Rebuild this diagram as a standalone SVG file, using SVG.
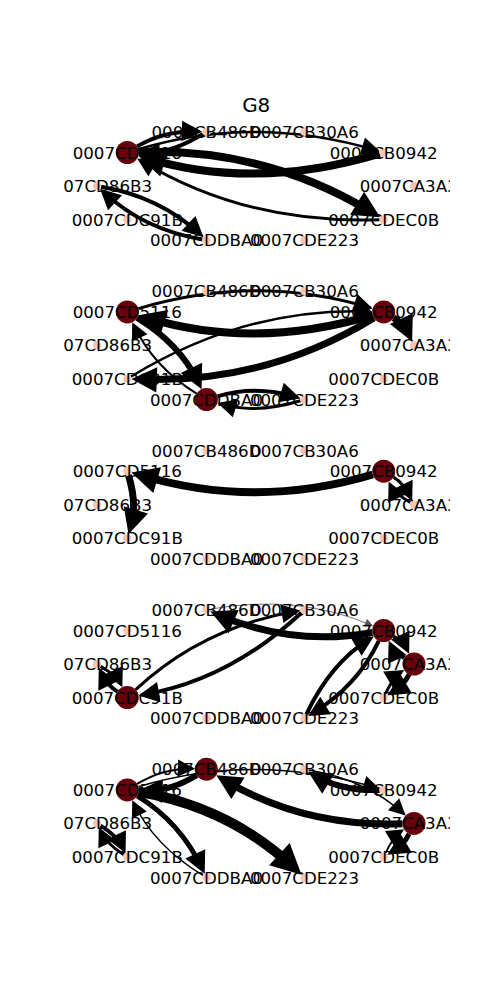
<svg xmlns="http://www.w3.org/2000/svg" width="500" height="1000" viewBox="0 0 500 1000">
<defs>
<style>
text{font-family:"DejaVu Sans","Liberation Sans",sans-serif;fill:#000}
.lbl{font-size:16.67px;text-anchor:middle}
.st{text-anchor:start}
.edges path{fill:none;stroke:#000}
.edges path.gr{stroke:#555}
.dk{fill:#67000d}
.lt{fill:#fcc5ad}
marker path{fill:#000;stroke:#000;stroke-linejoin:miter}
marker.g path{fill:#555;stroke:#555}
</style>
<clipPath id="ax"><rect x="62.5" y="-80" width="387.5" height="160"/></clipPath>
<marker id="mg" class="g" markerUnits="userSpaceOnUse" orient="auto" overflow="visible" markerWidth="1" markerHeight="1"><path d="M0,0L-7,-3.5L-7,3.5Z" stroke-width="0.8"/></marker>
<marker id="m15" markerUnits="userSpaceOnUse" orient="auto" overflow="visible" markerWidth="1" markerHeight="1"><path d="M0,0L-14,-7L-14,7Z" stroke-width="1.5"/></marker>
<marker id="m2" markerUnits="userSpaceOnUse" orient="auto" overflow="visible" markerWidth="1" markerHeight="1"><path d="M0,0L-14,-7L-14,7Z" stroke-width="2"/></marker>
<marker id="m25" markerUnits="userSpaceOnUse" orient="auto" overflow="visible" markerWidth="1" markerHeight="1"><path d="M0,0L-14,-7L-14,7Z" stroke-width="2.5"/></marker>
<marker id="m3" markerUnits="userSpaceOnUse" orient="auto" overflow="visible" markerWidth="1" markerHeight="1"><path d="M0,0L-14,-7L-14,7Z" stroke-width="3"/></marker>
<marker id="m4" markerUnits="userSpaceOnUse" orient="auto" overflow="visible" markerWidth="1" markerHeight="1"><path d="M0,0L-14,-7L-14,7Z" stroke-width="4"/></marker>
<marker id="m5" markerUnits="userSpaceOnUse" orient="auto" overflow="visible" markerWidth="1" markerHeight="1"><path d="M0,0L-14,-7L-14,7Z" stroke-width="5"/></marker>
<marker id="m6" markerUnits="userSpaceOnUse" orient="auto" overflow="visible" markerWidth="1" markerHeight="1"><path d="M0,0L-14,-7L-14,7Z" stroke-width="6"/></marker>
<marker id="m7" markerUnits="userSpaceOnUse" orient="auto" overflow="visible" markerWidth="1" markerHeight="1"><path d="M0,0L-14,-7L-14,7Z" stroke-width="7"/></marker>
<marker id="m8" markerUnits="userSpaceOnUse" orient="auto" overflow="visible" markerWidth="1" markerHeight="1"><path d="M0,0L-14,-7L-14,7Z" stroke-width="8"/></marker>
<marker id="m10" markerUnits="userSpaceOnUse" orient="auto" overflow="visible" markerWidth="1" markerHeight="1"><path d="M0,0L-14,-7L-14,7Z" stroke-width="10"/></marker>
</defs>
<rect width="500" height="1000" fill="#fff"/>
<text id="title" x="256.25" y="111.7" font-size="20" text-anchor="middle">G8</text>

<!-- Panel 1 -->
<g id="panel1" transform="translate(0,186)" clip-path="url(#ax)">
<g id="p1-edges" class="edges">
<path d="M138.3,-36.8Q255.5,-72 377,-35.5" stroke-width="2.5" marker-end="url(#m25)"/>
<path d="M137.1,-39.5Q163.8,-55.7 197.8,-54.5" stroke-width="4" marker-end="url(#m4)"/>
<path d="M202.9,-52Q170,-32 143.3,-32.9" stroke-width="4" marker-end="url(#m4)"/>
<path d="M379.7,-32.3Q255.5,5 146.9,-27.6" stroke-width="8" marker-end="url(#m8)"/>
<path d="M138.8,-33.9Q265.6,-38.5 372.5,26.7" stroke-width="8" marker-end="url(#m8)"/>
<path d="M379.5,33.7Q245.5,38.5 140,-25.8" stroke-width="3" marker-end="url(#m3)"/>
<path d="M101.1,0.7Q159.9,10.7 200.2,48.3" stroke-width="4" marker-end="url(#m4)"/>
<path d="M202.4,53.5Q143.6,43.5 103.3,5.9" stroke-width="4" marker-end="url(#m4)"/>
</g>
<g id="p1-0007CA3A3"><circle class="lt" cx="414" cy="0" r="4.2"/><text class="lbl st" x="359.7" y="6">0007CA3A3</text></g>
<g id="p1-0007CB0942"><circle class="lt" cx="383.7" cy="-33.5" r="4.2"/><text class="lbl" x="383.7" y="-27.5">0007CB0942</text></g>
<g id="p1-0007CB30A6"><circle class="lt" cx="304.5" cy="-54.2" r="4.2"/><text class="lbl" x="304.5" y="-48.2">0007CB30A6</text></g>
<g id="p1-0007CB486D"><circle class="lt" cx="206.5" cy="-54.2" r="4.2"/><text class="lbl" x="206.5" y="-48.2">0007CB486D</text></g>
<g id="p1-0007CD5116"><circle class="dk" cx="127.3" cy="-33.5" r="11.5"/><text class="lbl" x="127.3" y="-27.5">0007CD5116</text></g>
<g id="p1-0007CD86B3"><circle class="lt" cx="97" cy="0" r="4.2"/><text class="lbl st" x="63.2" y="6">07CD86B3</text></g>
<g id="p1-0007CDC91B"><circle class="lt" cx="127.3" cy="33.5" r="4.2"/><text class="lbl" x="127.3" y="39.5">0007CDC91B</text></g>
<g id="p1-0007CDDBA0"><circle class="lt" cx="206.5" cy="54.2" r="4.2"/><text class="lbl" x="206.5" y="60.2">0007CDDBA0</text></g>
<g id="p1-0007CDE223"><circle class="lt" cx="304.5" cy="54.2" r="4.2"/><text class="lbl" x="304.5" y="60.2">0007CDE223</text></g>
<g id="p1-0007CDEC0B"><circle class="lt" cx="383.7" cy="33.5" r="4.2"/><text class="lbl" x="383.7" y="39.5">0007CDEC0B</text></g>
</g>

<!-- Panel 2 -->
<g id="panel2" transform="translate(0,345.4)" clip-path="url(#ax)">
<g id="p2-edges" class="edges">
<path d="M138.3,-36.8Q255.5,-72 369.5,-37.8" stroke-width="3" marker-end="url(#m3)"/>
<path d="M372.7,-30.2Q255.5,5 146.9,-27.6" stroke-width="8" marker-end="url(#m8)"/>
<path d="M130.9,31.3Q245.5,-38.5 369.4,-34" stroke-width="2.5" marker-end="url(#m25)"/>
<path d="M373.9,-27.5Q265.6,38.5 139.3,33.9" stroke-width="7" marker-end="url(#m7)"/>
<path d="M137.1,-27.5Q180.1,-1.5 198.7,37.8" stroke-width="6" marker-end="url(#m6)"/>
<path d="M196.7,48.2Q153.8,22.2 133.2,-21.1" stroke-width="2" marker-end="url(#m2)"/>
<path d="M393.5,-27.6Q403.9,-21.3 408.8,-10.9" stroke-width="7" marker-end="url(#m7)"/>
<path d="M217.5,50.9Q255.5,39.5 296.2,51.7" stroke-width="4" marker-end="url(#m4)"/>
<path d="M300.5,55.4Q255.5,68.9 220.7,58.5" stroke-width="3" marker-end="url(#m3)"/>
</g>
<g id="p2-0007CA3A3"><circle class="lt" cx="414" cy="0" r="4.2"/><text class="lbl st" x="359.7" y="6">0007CA3A3</text></g>
<g id="p2-0007CB0942"><circle class="dk" cx="383.7" cy="-33.5" r="11.5"/><text class="lbl" x="383.7" y="-27.5">0007CB0942</text></g>
<g id="p2-0007CB30A6"><circle class="lt" cx="304.5" cy="-54.2" r="4.2"/><text class="lbl" x="304.5" y="-48.2">0007CB30A6</text></g>
<g id="p2-0007CB486D"><circle class="lt" cx="206.5" cy="-54.2" r="4.2"/><text class="lbl" x="206.5" y="-48.2">0007CB486D</text></g>
<g id="p2-0007CD5116"><circle class="dk" cx="127.3" cy="-33.5" r="11.5"/><text class="lbl" x="127.3" y="-27.5">0007CD5116</text></g>
<g id="p2-0007CD86B3"><circle class="lt" cx="97" cy="0" r="4.2"/><text class="lbl st" x="63.2" y="6">07CD86B3</text></g>
<g id="p2-0007CDC91B"><circle class="lt" cx="127.3" cy="33.5" r="4.2"/><text class="lbl" x="127.3" y="39.5">0007CDC91B</text></g>
<g id="p2-0007CDDBA0"><circle class="dk" cx="206.5" cy="54.2" r="11.5"/><text class="lbl" x="206.5" y="60.2">0007CDDBA0</text></g>
<g id="p2-0007CDE223"><circle class="lt" cx="304.5" cy="54.2" r="4.2"/><text class="lbl" x="304.5" y="60.2">0007CDE223</text></g>
<g id="p2-0007CDEC0B"><circle class="lt" cx="383.7" cy="33.5" r="4.2"/><text class="lbl" x="383.7" y="39.5">0007CDEC0B</text></g>
</g>

<!-- Panel 3 -->
<g id="panel3" transform="translate(0,504.7)" clip-path="url(#ax)">
<g id="p3-edges" class="edges">
<path d="M372.7,-30.2Q255.5,5 139.9,-29.7" stroke-width="8" marker-end="url(#m8)"/>
<path d="M128.5,-29.5Q137.4,0 130.8,22" stroke-width="7" marker-end="url(#m7)"/>
<path d="M393.5,-27.6Q403.9,-21.3 410.8,-6.8" stroke-width="3" marker-end="url(#m3)"/>
<path d="M410.4,-2.2Q393.8,-12.2 390.1,-20.1" stroke-width="3" marker-end="url(#m3)"/>
</g>
<g id="p3-0007CA3A3"><circle class="lt" cx="414" cy="0" r="4.2"/><text class="lbl st" x="359.7" y="6">0007CA3A3</text></g>
<g id="p3-0007CB0942"><circle class="dk" cx="383.7" cy="-33.5" r="11.5"/><text class="lbl" x="383.7" y="-27.5">0007CB0942</text></g>
<g id="p3-0007CB30A6"><circle class="lt" cx="304.5" cy="-54.2" r="4.2"/><text class="lbl" x="304.5" y="-48.2">0007CB30A6</text></g>
<g id="p3-0007CB486D"><circle class="lt" cx="206.5" cy="-54.2" r="4.2"/><text class="lbl" x="206.5" y="-48.2">0007CB486D</text></g>
<g id="p3-0007CD5116"><circle class="lt" cx="127.3" cy="-33.5" r="4.2"/><text class="lbl" x="127.3" y="-27.5">0007CD5116</text></g>
<g id="p3-0007CD86B3"><circle class="lt" cx="97" cy="0" r="4.2"/><text class="lbl st" x="63.2" y="6">07CD86B3</text></g>
<g id="p3-0007CDC91B"><circle class="lt" cx="127.3" cy="33.5" r="4.2"/><text class="lbl" x="127.3" y="39.5">0007CDC91B</text></g>
<g id="p3-0007CDDBA0"><circle class="lt" cx="206.5" cy="54.2" r="4.2"/><text class="lbl" x="206.5" y="60.2">0007CDDBA0</text></g>
<g id="p3-0007CDE223"><circle class="lt" cx="304.5" cy="54.2" r="4.2"/><text class="lbl" x="304.5" y="60.2">0007CDE223</text></g>
<g id="p3-0007CDEC0B"><circle class="lt" cx="383.7" cy="33.5" r="4.2"/><text class="lbl" x="383.7" y="39.5">0007CDEC0B</text></g>
</g>

<!-- Panel 4 -->
<g id="panel4" transform="translate(0,664)" clip-path="url(#ax)">
<g id="p4-edges" class="edges">
<path d="M372.4,-31.5Q292,-17.3 217.5,-49.4" stroke-width="7" marker-end="url(#m7)"/>
<path class="gr" d="M210.6,-54.9Q298.2,-70.4 372.3,-38.4" stroke-width="0.8" marker-end="url(#mg)"/>
<path d="M135.7,25.7Q202.8,-36.9 297.1,-52.9" stroke-width="3" marker-end="url(#m3)"/>
<path d="M301.4,-51.3Q229.1,16.2 143,30.8" stroke-width="4" marker-end="url(#m4)"/>
<path d="M117.5,27.6Q107.1,21.3 100.7,7.8" stroke-width="4" marker-end="url(#m4)"/>
<path d="M100.6,2.2Q117.2,12.2 120.9,20.1" stroke-width="3" marker-end="url(#m3)"/>
<path d="M378.8,-23.1Q357.3,22.2 311.9,49.7" stroke-width="4" marker-end="url(#m4)"/>
<path d="M306.3,50.4Q331,-1.5 370,-25.2" stroke-width="4" marker-end="url(#m4)"/>
<path d="M393.5,-27.6Q403.9,-21.3 407.2,-14.4" stroke-width="4" marker-end="url(#m4)"/>
<path d="M404.2,-6Q393.8,-12.2 390.6,-19.1" stroke-width="4" marker-end="url(#m4)"/>
<path d="M409.1,10.4Q403.9,21.3 392.1,28.4" stroke-width="5" marker-end="url(#m5)"/>
<path d="M385.5,29.7Q393.8,12.2 401.3,7.7" stroke-width="3" marker-end="url(#m3)"/>
</g>
<g id="p4-0007CA3A3"><circle class="dk" cx="414" cy="0" r="11.5"/><text class="lbl st" x="359.7" y="6">0007CA3A3</text></g>
<g id="p4-0007CB0942"><circle class="dk" cx="383.7" cy="-33.5" r="11.5"/><text class="lbl" x="383.7" y="-27.5">0007CB0942</text></g>
<g id="p4-0007CB30A6"><circle class="lt" cx="304.5" cy="-54.2" r="4.2"/><text class="lbl" x="304.5" y="-48.2">0007CB30A6</text></g>
<g id="p4-0007CB486D"><circle class="lt" cx="206.5" cy="-54.2" r="4.2"/><text class="lbl" x="206.5" y="-48.2">0007CB486D</text></g>
<g id="p4-0007CD5116"><circle class="lt" cx="127.3" cy="-33.5" r="4.2"/><text class="lbl" x="127.3" y="-27.5">0007CD5116</text></g>
<g id="p4-0007CD86B3"><circle class="lt" cx="97" cy="0" r="4.2"/><text class="lbl st" x="63.2" y="6">07CD86B3</text></g>
<g id="p4-0007CDC91B"><circle class="dk" cx="127.3" cy="33.5" r="11.5"/><text class="lbl" x="127.3" y="39.5">0007CDC91B</text></g>
<g id="p4-0007CDDBA0"><circle class="lt" cx="206.5" cy="54.2" r="4.2"/><text class="lbl" x="206.5" y="60.2">0007CDDBA0</text></g>
<g id="p4-0007CDE223"><circle class="lt" cx="304.5" cy="54.2" r="4.2"/><text class="lbl" x="304.5" y="60.2">0007CDE223</text></g>
<g id="p4-0007CDEC0B"><circle class="lt" cx="383.7" cy="33.5" r="4.2"/><text class="lbl" x="383.7" y="39.5">0007CDEC0B</text></g>
</g>

<!-- Panel 5 -->
<g id="panel5" transform="translate(0,823.4)" clip-path="url(#ax)">
<g id="p5-edges" class="edges">
<path d="M137.1,-39.5Q163.8,-55.7 192.8,-54.7" stroke-width="2" marker-end="url(#m2)"/>
<path d="M196.7,-48.2Q170,-32 145.5,-32.9" stroke-width="6" marker-end="url(#m6)"/>
<path d="M402.5,0.4Q302.1,4 223,-44.2" stroke-width="7" marker-end="url(#m7)"/>
<path d="M138.3,-36.8Q255.5,-72 378.1,-35.2" stroke-width="1.5" marker-end="url(#m15)"/>
<path d="M308.6,-53.5Q367.4,-43.5 404.4,-9" stroke-width="1.5" marker-end="url(#m15)"/>
<path d="M379.5,-33.4Q341,-32 313.8,-48.5" stroke-width="6" marker-end="url(#m6)"/>
<path d="M137.1,-27.5Q180.1,-1.5 202.3,45.4" stroke-width="5" marker-end="url(#m5)"/>
<path d="M202.9,52Q153.8,22.2 133,-21.6" stroke-width="1.5" marker-end="url(#m15)"/>
<path d="M138.6,-31.6Q229.1,-16.2 293.3,43.7" stroke-width="10" marker-end="url(#m10)"/>
<path d="M100.6,2.2Q117.2,12.2 123.6,25.7" stroke-width="4" marker-end="url(#m4)"/>
<path d="M123.7,31.3Q107.1,21.3 100.2,6.8" stroke-width="3" marker-end="url(#m3)"/>
<path d="M409.1,10.4Q403.9,21.3 392.1,28.4" stroke-width="5" marker-end="url(#m5)"/>
<path d="M385.5,29.7Q393.8,12.2 402.2,7.1" stroke-width="2" marker-end="url(#m2)"/>
</g>
<g id="p5-0007CA3A3"><circle class="dk" cx="414" cy="0" r="11.5"/><text class="lbl st" x="359.7" y="6">0007CA3A3</text></g>
<g id="p5-0007CB0942"><circle class="lt" cx="383.7" cy="-33.5" r="4.2"/><text class="lbl" x="383.7" y="-27.5">0007CB0942</text></g>
<g id="p5-0007CB30A6"><circle class="lt" cx="304.5" cy="-54.2" r="4.2"/><text class="lbl" x="304.5" y="-48.2">0007CB30A6</text></g>
<g id="p5-0007CB486D"><circle class="dk" cx="206.5" cy="-54.2" r="11.5"/><text class="lbl" x="206.5" y="-48.2">0007CB486D</text></g>
<g id="p5-0007CD5116"><circle class="dk" cx="127.3" cy="-33.5" r="11.5"/><text class="lbl" x="127.3" y="-27.5">0007CD5116</text></g>
<g id="p5-0007CD86B3"><circle class="lt" cx="97" cy="0" r="4.2"/><text class="lbl st" x="63.2" y="6">07CD86B3</text></g>
<g id="p5-0007CDC91B"><circle class="lt" cx="127.3" cy="33.5" r="4.2"/><text class="lbl" x="127.3" y="39.5">0007CDC91B</text></g>
<g id="p5-0007CDDBA0"><circle class="lt" cx="206.5" cy="54.2" r="4.2"/><text class="lbl" x="206.5" y="60.2">0007CDDBA0</text></g>
<g id="p5-0007CDE223"><circle class="lt" cx="304.5" cy="54.2" r="4.2"/><text class="lbl" x="304.5" y="60.2">0007CDE223</text></g>
<g id="p5-0007CDEC0B"><circle class="lt" cx="383.7" cy="33.5" r="4.2"/><text class="lbl" x="383.7" y="39.5">0007CDEC0B</text></g>
</g>
</svg>
